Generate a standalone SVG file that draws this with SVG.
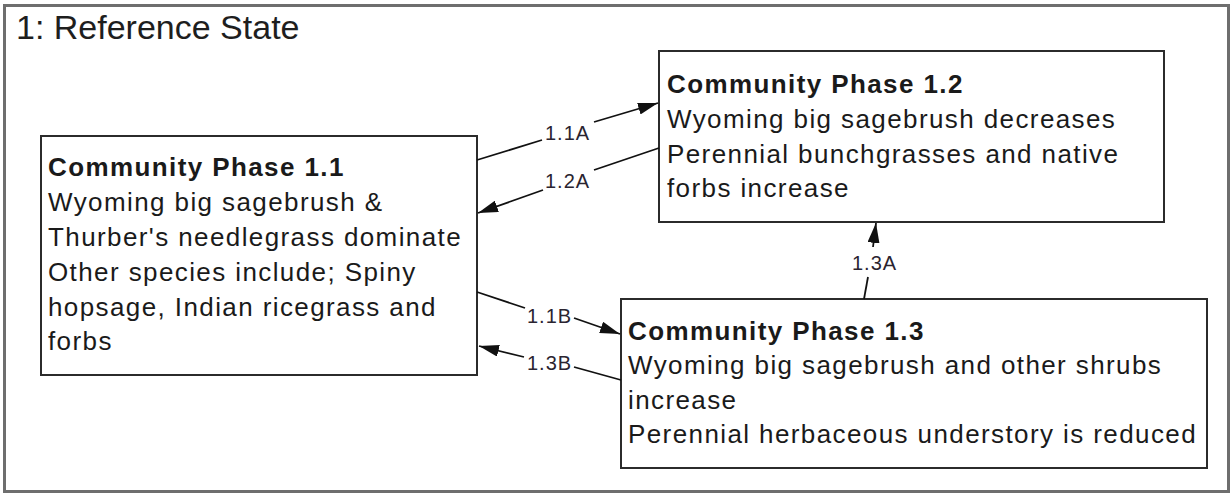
<svg xmlns="http://www.w3.org/2000/svg" width="1231" height="494" viewBox="0 0 1231 494">
  <style>
    .frame { fill: #ffffff; stroke: #6e6e6e; stroke-width: 3; }
    .box { fill: #ffffff; stroke: #2b2b2b; stroke-width: 2; }
    .title { font-family: "Liberation Sans", Arial, sans-serif; font-size: 34px; fill: #1e1e1e; }
    .head { font-family: "Liberation Sans", Arial, sans-serif; font-size: 26px; font-weight: bold; fill: #1a1a1a; letter-spacing: 1.4px; }
    .body { font-family: "Liberation Sans", Arial, sans-serif; font-size: 26px; fill: #1a1a1a; letter-spacing: 1.4px; }
    .lbl { font-family: "Liberation Sans", Arial, sans-serif; font-size: 20px; fill: #2a2430; letter-spacing: 1px; }
    .conn { fill: none; stroke: #111111; stroke-width: 1.8; }
  </style>
  <defs>
    <marker id="arrow" viewBox="0 0 20 12" refX="20" refY="6" markerWidth="20" markerHeight="12" markerUnits="userSpaceOnUse" orient="auto">
      <path d="M0,0 L20,6 L0,12 Z" fill="#111111"/>
    </marker>
  </defs>

  <rect class="frame" x="4.5" y="5.5" width="1224" height="486"/>
  <text class="title" x="16" y="39">1: Reference State</text>

  <g id="phase-1-1">
    <rect class="box" x="41" y="136" width="436" height="239"/>
    <text class="head" x="48" y="176">Community Phase 1.1</text>
    <text class="body" x="48" y="211">Wyoming big sagebrush &amp;</text>
    <text class="body" x="48" y="246">Thurber's needlegrass dominate</text>
    <text class="body" x="48" y="281">Other species include; Spiny</text>
    <text class="body" x="48" y="316">hopsage, Indian ricegrass and</text>
    <text class="body" x="48" y="350">forbs</text>
  </g>

  <g id="phase-1-2">
    <rect class="box" x="659" y="51" width="505" height="171"/>
    <text class="head" x="667" y="93">Community Phase 1.2</text>
    <text class="body" x="667" y="128">Wyoming big sagebrush decreases</text>
    <text class="body" x="667" y="163">Perennial bunchgrasses and native</text>
    <text class="body" x="667" y="197">forbs increase</text>
  </g>

  <g id="phase-1-3">
    <rect class="box" x="621" y="299" width="586" height="169"/>
    <text class="head" x="628" y="340">Community Phase 1.3</text>
    <text class="body" x="628" y="374">Wyoming big sagebrush and other shrubs</text>
    <text class="body" x="628" y="409">increase</text>
    <text class="body" x="628" y="443">Perennial herbaceous understory is reduced</text>
  </g>

  <g id="connectors">
    <line class="conn" x1="477" y1="160" x2="542" y2="140"/>
    <line class="conn" x1="594" y1="122" x2="658" y2="103" marker-end="url(#arrow)"/>
    <text class="lbl" x="545" y="140">1.1A</text>

    <line class="conn" x1="659" y1="148" x2="594" y2="170"/>
    <line class="conn" x1="543" y1="190" x2="478" y2="213" marker-end="url(#arrow)"/>
    <text class="lbl" x="545" y="188">1.2A</text>

    <line class="conn" x1="477" y1="292" x2="525" y2="308"/>
    <line class="conn" x1="574" y1="318" x2="620" y2="334" marker-end="url(#arrow)"/>
    <text class="lbl" x="527" y="323">1.1B</text>

    <line class="conn" x1="621" y1="380" x2="574" y2="367"/>
    <line class="conn" x1="524" y1="357" x2="479" y2="346" marker-end="url(#arrow)"/>
    <text class="lbl" x="527" y="370">1.3B</text>

    <line class="conn" x1="864" y1="299" x2="868" y2="277"/>
    <line class="conn" x1="873" y1="247" x2="876" y2="223" marker-end="url(#arrow)"/>
    <text class="lbl" x="852" y="270">1.3A</text>
  </g>
</svg>
